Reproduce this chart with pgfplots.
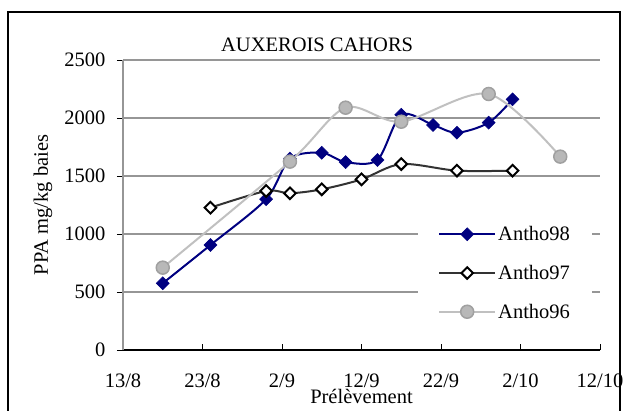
\documentclass[border=0pt]{standalone}
\usepackage{pgfplots}
\pgfplotsset{compat=1.18}
\usepackage{fontspec}
\setmainfont{Liberation Serif}
\definecolor{navy}{RGB}{0,0,128}
\definecolor{gridgray}{RGB}{150,150,150}
\definecolor{g97}{RGB}{51,51,51}
\definecolor{g96}{RGB}{192,192,192}
\definecolor{m96}{RGB}{184,184,184}
\definecolor{m96b}{RGB}{160,160,160}
\begin{document}
\begin{tikzpicture}[font=\fontsize{20.5}{24}\selectfont]
\begin{axis}[
  scale only axis, width=477pt, height=290pt,
  xmin=0, xmax=60, ymin=0, ymax=2500,
  axis lines*=left,
  x axis line style={black, line width=1.2pt},
  y axis line style={gridgray, line width=1.5pt},
  xtick={0,10,...,60},
  xticklabels={13/8,23/8,2/9,12/9,22/9,2/10,12/10},
  ytick={0,500,...,2500},
  ymajorgrids,
  major grid style={gridgray, line width=2pt},
  tick align=outside, major tick length=6pt,
  xtick style={black, line width=1pt, yshift=6pt},
  ytick style={black, line width=1pt},
  yticklabel style={xshift=-8pt},
  xticklabel style={yshift=-14pt},
  /pgf/number format/assume math mode=true,
  /pgf/number format/1000 sep={},
  title={AUXEROIS CAHORS},
  title style={at={(axis description cs:0.407,1.007)}, anchor=base},
  xlabel={Prélèvement},
  xlabel style={at={(axis description cs:0.5,-0.183)}, anchor=base},
  ylabel={PPA mg/kg baies},
  ylabel style={at={(axis description cs:-0.168,0.5)}, anchor=center},
  legend cell align=left,
  legend style={at={(axis description cs:0.801,0.2655)}, anchor=center, fill=white, draw=none, row sep=19pt, inner xsep=20pt, inner ysep=8pt},
  legend image code/.code={\draw[mark repeat=2,mark phase=2] plot coordinates {(0pt,0pt)(28pt,0pt)(56pt,0pt)};},
]
\coordinate (sw) at (rel axis cs:0,0);
\coordinate (ne) at (rel axis cs:1,1);
\addplot[navy, line width=2pt, smooth, mark=square*, mark size=4.6pt,
  mark options={rotate=45, solid, fill=navy, draw=navy, line width=0.5pt}]
  coordinates {(5,575) (11,905) (18,1300) (21,1650) (25,1700) (28,1620) (32,1638) (35,2028) (39,1940) (42,1873) (46,1960) (49,2161)};
\addlegendentry{Antho98}
\addplot[g97, line width=2pt, smooth, mark=square*, mark size=4.1pt,
  mark options={rotate=45, solid, fill=white, draw=black, line width=2pt}]
  coordinates {(11,1227) (18,1371) (21,1351) (25,1385) (30,1471) (35,1603) (42,1546) (49,1546)};
\addlegendentry{Antho97}
\addplot[g96, line width=2pt, smooth, mark=*, mark size=6.5pt,
  mark options={solid, fill=m96, draw=m96b, line width=1.5pt}]
  coordinates {(5,710) (21,1624) (28,2089) (35,1968) (46,2207) (55,1667)};
\addlegendentry{Antho96}
\end{axis}
\draw[black, line width=1.2pt] ([xshift=-115pt,yshift=-80pt]sw) rectangle ([xshift=20pt,yshift=48pt]ne);
\pgfresetboundingbox
\useasboundingbox ([xshift=-123pt,yshift=-60pt]sw) rectangle ([xshift=25pt,yshift=60pt]ne);
\end{tikzpicture}
\end{document}
